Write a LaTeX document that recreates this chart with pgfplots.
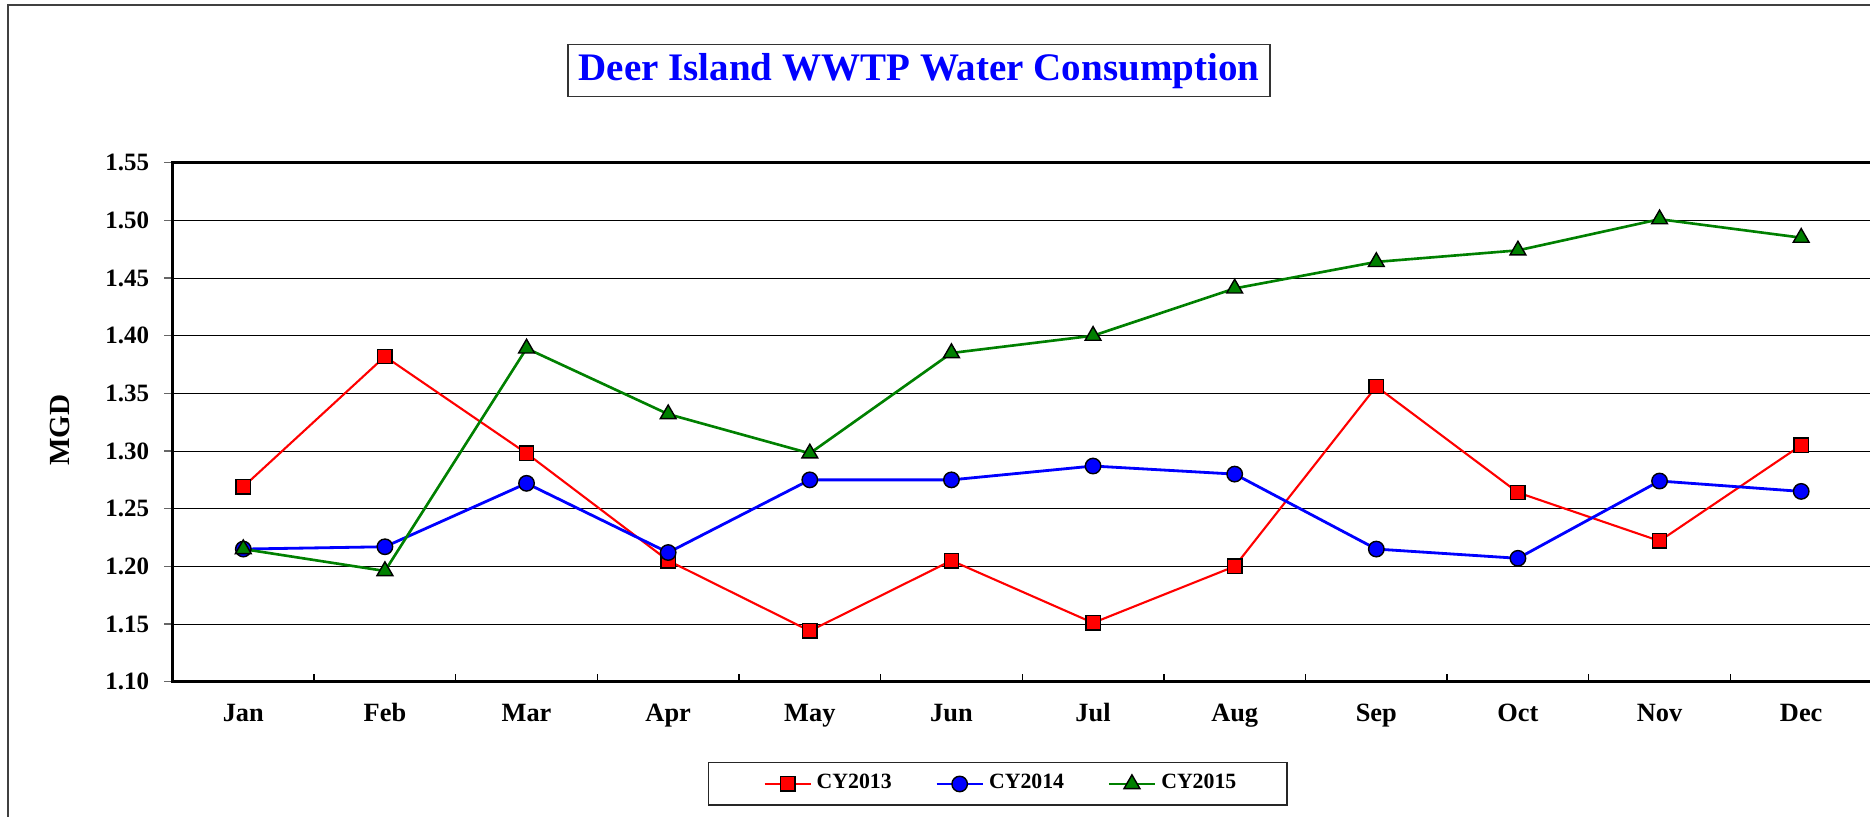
\documentclass[border=0pt]{standalone}
\usepackage{fontspec}
\setmainfont{Liberation Serif}
\usepackage{pgfplots}
\pgfplotsset{compat=1.18}

\definecolor{cyred}{RGB}{255,0,0}
\definecolor{cyblue}{RGB}{0,0,255}
\definecolor{cygreen}{RGB}{0,128,0}

\begin{document}
\begin{tikzpicture}
% outer chart frame (right and bottom edges fall outside the picture)
\draw[black!75, line width=0.35pt] (-16.45mm,-15mm) -- (-16.45mm,67.67mm) -- (172mm,67.67mm);

\begin{axis}[
    at={(0,0)}, anchor=south west,
    scale only axis,
    width=169.95mm, height=51.9mm,
    xmin=-0.5, xmax=11.5,
    ymin=1.10, ymax=1.55,
    xtick={0,...,11},
    xticklabels={Jan,Feb,Mar,Apr,May,Jun,Jul,Aug,Sep,Oct,Nov,Dec},
    minor xtick={0.5,1.5,...,10.5},
    xtick pos=bottom, xtick align=inside,
    major x tick style={draw=none},
    minor x tick style={black, line width=0.4pt},
    minor tick length=0.8mm,
    ytick={1.10,1.15,1.20,1.25,1.30,1.35,1.40,1.45,1.50,1.55},
    ytick pos=left, ytick align=outside,
    major tick length=0.8mm,
    y tick style={black!60, line width=0.4pt},
    ymajorgrids,
    grid style={black, line width=0.3pt},
    axis line style={black, line width=0.75pt},
    /pgf/number format/assume math mode=true,
    yticklabel style={/pgf/number format/fixed, /pgf/number format/fixed zerofill,
        /pgf/number format/precision=2,
        font=\bfseries\fontsize{7.1}{8}\selectfont, anchor=east, inner sep=0pt, xshift=-1.47mm},
    xticklabel style={font=\bfseries\fontsize{7.5}{9}\selectfont, anchor=base, inner sep=0pt, yshift=-4.0mm},
    ylabel={MGD},
    ylabel style={font=\bfseries\fontsize{8.3}{10}\selectfont, at={(axis description cs:-0.0662,0.485)}, anchor=center},
    legend columns=3,
    legend style={draw=none, fill=none, at={(axis description cs:0.4869,-0.1971)}, anchor=center,
        font=\bfseries\fontsize{6.2}{8}\selectfont, inner sep=0pt,
        nodes={inner sep=0pt},
        /tikz/every odd column/.append style={column sep=0.5mm},
        /tikz/every even column/.append style={column sep=4.35mm}},
    legend image code/.code={\draw[mark repeat=2, mark phase=2] plot coordinates {(0mm,0mm) (2.3mm,0mm) (4.6mm,0mm)};},
]
\addplot[cyred, line width=0.6pt, mark=square*, mark size=2.05pt,
    mark options={fill=cyred, draw=black, line width=0.4pt}] coordinates {
    (0,1.269) (1,1.382) (2,1.298) (3,1.205) (4,1.144) (5,1.205)
    (6,1.151) (7,1.200) (8,1.356) (9,1.264) (10,1.222) (11,1.305)
};
\addplot[cyblue, line width=0.8pt, mark=*, mark size=2.2pt,
    mark options={fill=cyblue, draw=black, line width=0.4pt}] coordinates {
    (0,1.215) (1,1.217) (2,1.272) (3,1.212) (4,1.275) (5,1.275)
    (6,1.287) (7,1.280) (8,1.215) (9,1.207) (10,1.274) (11,1.265)
};
\addplot[cygreen, line width=0.75pt, mark=triangle*, mark size=2.6pt,
    mark options={fill=cygreen, draw=black, line width=0.4pt}] coordinates {
    (0,1.215) (1,1.196) (2,1.389) (3,1.332) (4,1.298) (5,1.385)
    (6,1.400) (7,1.441) (8,1.464) (9,1.474) (10,1.501) (11,1.485)
};
\legend{CY2013, CY2014, CY2015}
\end{axis}

% title box
\node[draw=black!80, line width=0.4pt, fill=white, minimum width=70.2mm, minimum height=5.2mm,
    inner sep=0pt, text=cyblue, font=\bfseries\fontsize{11.1}{13}\selectfont]
    at (74.65mm,61.1mm) {Deer Island WWTP Water Consumption};

% legend frame
\draw[black!85, line width=0.4pt] (53.58mm,-12.33mm) rectangle (111.43mm,-8.1mm);

\pgfresetboundingbox
\useasboundingbox (-17.25mm,-13.53mm) rectangle (169.75mm,68.17mm);
\end{tikzpicture}
\end{document}
